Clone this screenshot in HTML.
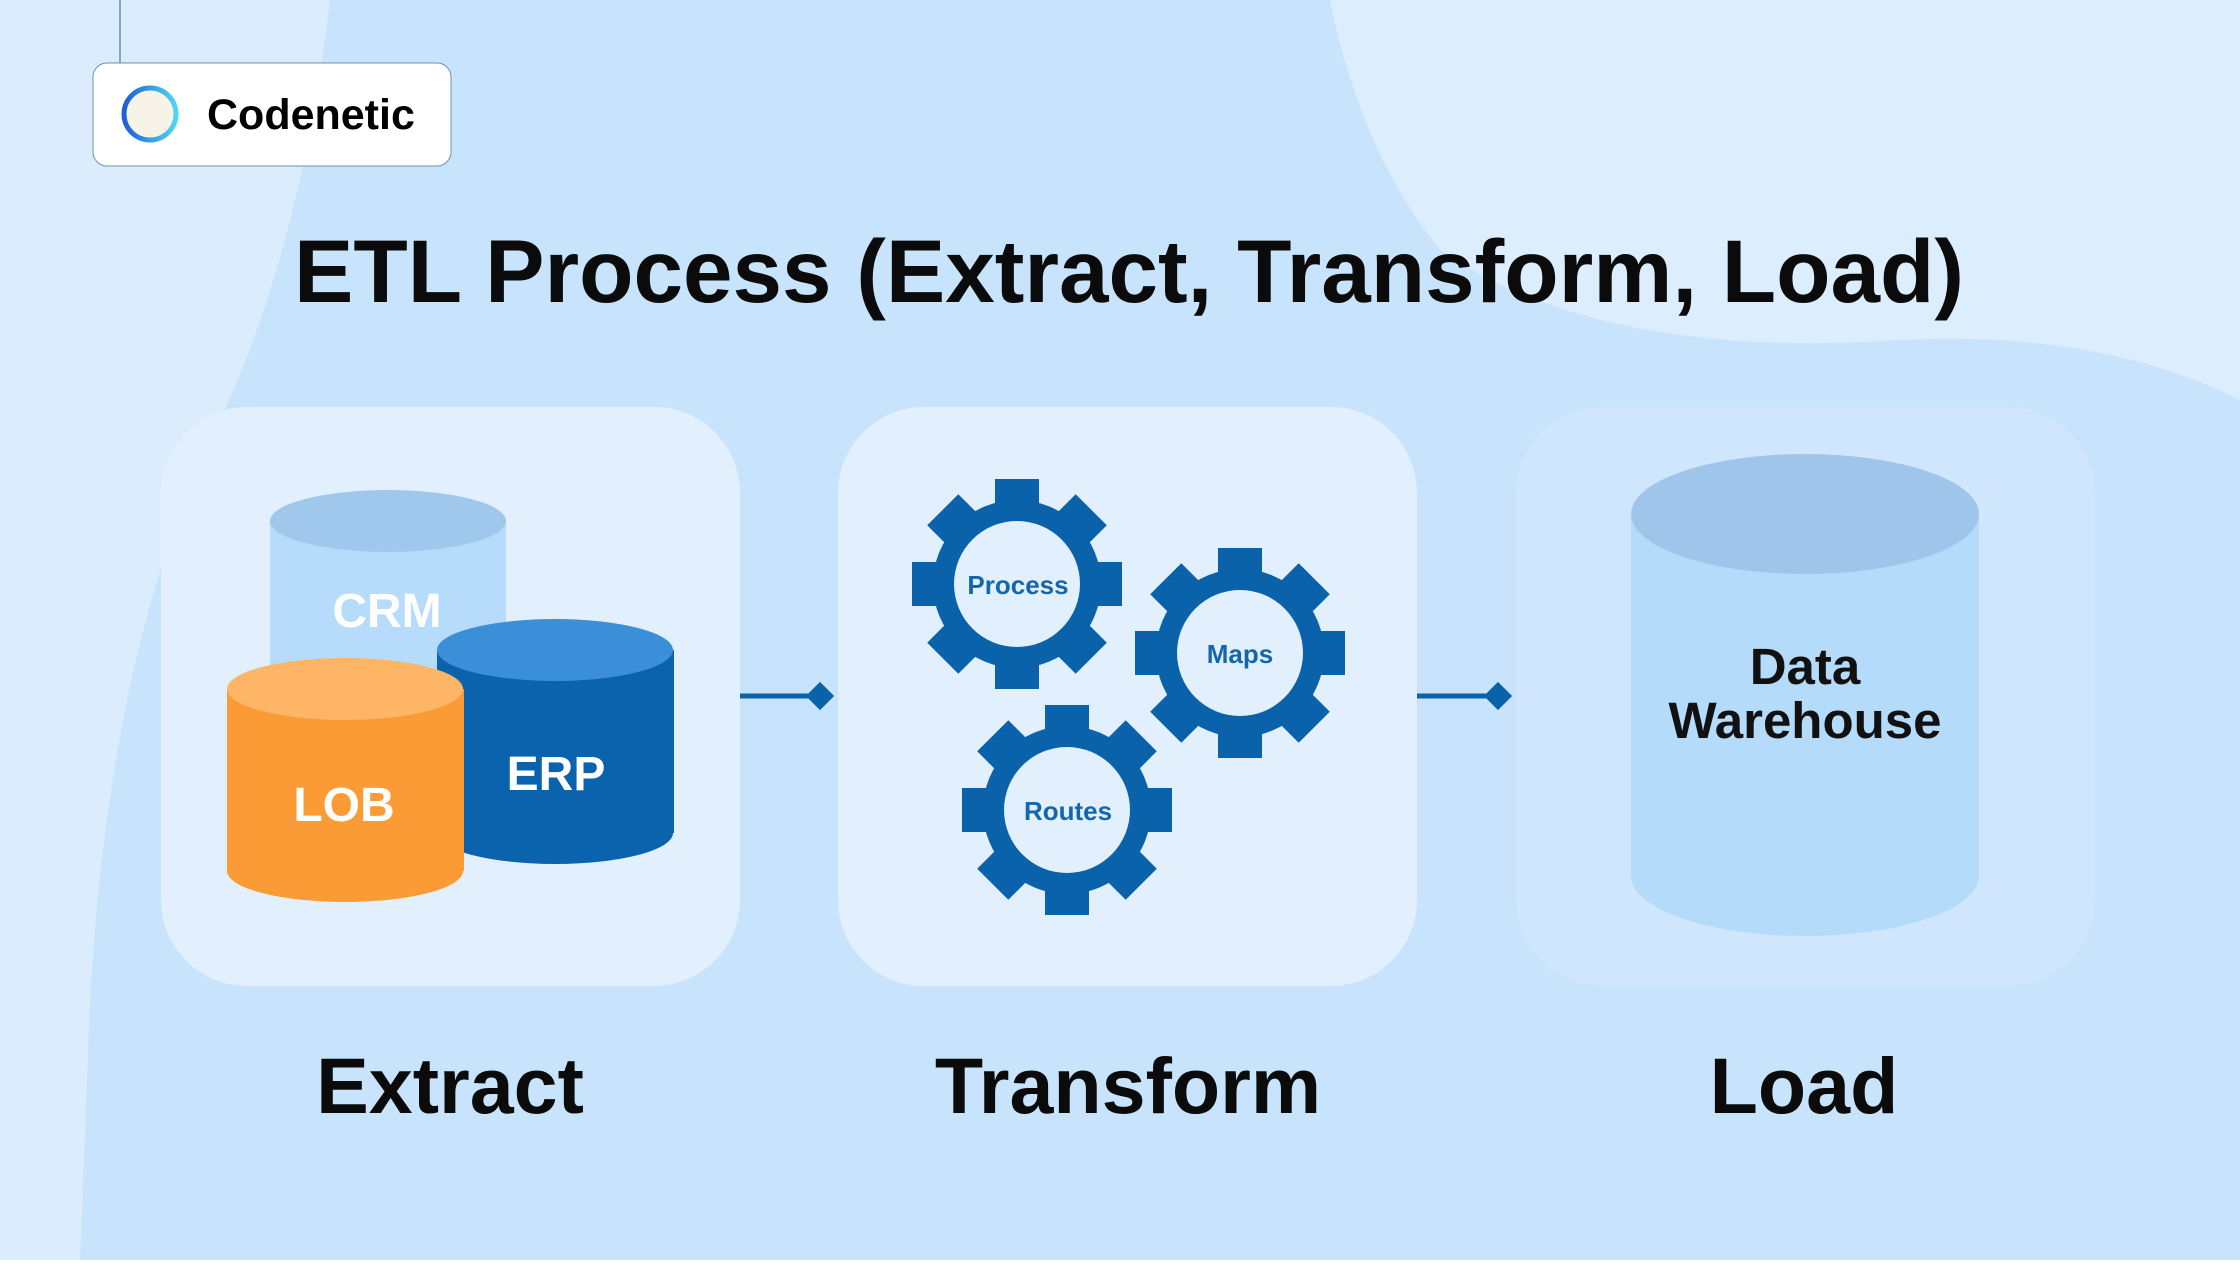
<!DOCTYPE html>
<html><head><meta charset="utf-8"><style>
html,body{margin:0;padding:0}
body{width:2240px;height:1260px;overflow:hidden;font-family:"Liberation Sans",sans-serif}
</style></head><body>
<svg width="2240" height="1260" viewBox="0 0 2240 1260" xmlns="http://www.w3.org/2000/svg">
<rect width="2240" height="1260" fill="#c8e4fc"/>
<path d="M0 0 L330 0 Q300 250 220 420 Q110 640 90 1000 L80 1260 L0 1260 Z" fill="#dbecfd"/>
<path d="M1330 0 L2240 0 L2240 400 Q2100 330 1900 340 Q1600 360 1440 250 Q1360 150 1330 0 Z" fill="#dcedfd"/>
<line x1="120" y1="0" x2="120" y2="63" stroke="#6b8fb5" stroke-width="1.5"/>
<rect x="93" y="63" width="358" height="103" rx="14" fill="#fff" stroke="#6f8fb8" stroke-width="1"/>
<defs><linearGradient id="lg" x1="0" x2="1"><stop offset="0" stop-color="#1f5fd8"/><stop offset="1" stop-color="#4fd6f0"/></linearGradient></defs>
<circle cx="150" cy="114" r="26" fill="#f7f3e6" stroke="url(#lg)" stroke-width="5"/>
<text x="207" y="129" font-size="43" font-weight="bold" fill="#000">Codenetic</text>
<text x="1129" y="302" text-anchor="middle" font-size="89" font-weight="bold" fill="#0b0b0b">ETL Process (Extract, Transform, Load)</text>
<rect x="161" y="407" width="579" height="579" rx="86" fill="#e2f0fe"/>
<rect x="838" y="407" width="579" height="579" rx="86" fill="#e2f0fe"/>
<rect x="1516" y="407" width="579" height="579" rx="86" fill="#cfe6fc"/>
<line x1="740" y1="696" x2="815" y2="696" stroke="#0a62aa" stroke-width="5"/>
<rect x="810" y="686" width="20" height="20" fill="#0a62aa" transform="rotate(45 820 696)"/>
<line x1="1417" y1="696" x2="1492" y2="696" stroke="#0a62aa" stroke-width="5"/>
<rect x="1488" y="686" width="20" height="20" fill="#0a62aa" transform="rotate(45 1498 696)"/>
<rect x="270" y="521" width="236" height="160" fill="#b7dbfa"/>
<ellipse cx="388" cy="521" rx="118" ry="31" fill="#9fc8ec"/>
<text x="387" y="627" text-anchor="middle" font-size="48" font-weight="bold" fill="#fff">CRM</text>
<rect x="437" y="650" width="237" height="183" fill="#0b62ad"/>
<ellipse cx="555" cy="833" rx="118" ry="31" fill="#0b62ad"/>
<ellipse cx="555" cy="650" rx="118" ry="31" fill="#3a8fd8"/>
<text x="556" y="790" text-anchor="middle" font-size="48" font-weight="bold" fill="#fff">ERP</text>
<rect x="227" y="689" width="237" height="182" fill="#fb9b35"/>
<ellipse cx="345" cy="871" rx="118" ry="31" fill="#fb9b35"/>
<ellipse cx="345" cy="689" rx="118" ry="31" fill="#ffb566"/>
<text x="344" y="821" text-anchor="middle" font-size="48" font-weight="bold" fill="#fff">LOB</text>
<defs>
<g id="gear">
<circle r="84" fill="#0a62aa"/>
<rect x="-22" y="-105" width="44" height="210" fill="#0a62aa"/>
<rect x="-22" y="-105" width="44" height="210" fill="#0a62aa" transform="rotate(45)"/>
<rect x="-22" y="-105" width="44" height="210" fill="#0a62aa" transform="rotate(90)"/>
<rect x="-22" y="-105" width="44" height="210" fill="#0a62aa" transform="rotate(135)"/>
<g fill="#e2f0fe">
<circle cx="91" cy="38" r="12"/><circle cx="38" cy="91" r="12"/><circle cx="-38" cy="91" r="12"/><circle cx="-91" cy="38" r="12"/>
<circle cx="-91" cy="-38" r="12"/><circle cx="-38" cy="-91" r="12"/><circle cx="38" cy="-91" r="12"/><circle cx="91" cy="-38" r="12"/>
</g>
<circle r="63" fill="#e2f0fe"/>
</g>
</defs>
<g transform="translate(1017,584)"><use href="#gear"/></g>
<g transform="translate(1240,653)"><use href="#gear"/></g>
<g transform="translate(1067,810)"><use href="#gear"/></g>
<text x="1018" y="594" text-anchor="middle" font-size="26" font-weight="bold" fill="#1466ad">Process</text>
<text x="1240" y="663" text-anchor="middle" font-size="26" font-weight="bold" fill="#1466ad">Maps</text>
<text x="1068" y="820" text-anchor="middle" font-size="26" font-weight="bold" fill="#1466ad">Routes</text>
<rect x="1631" y="514" width="348" height="362" fill="#b5dbfb"/>
<ellipse cx="1805" cy="876" rx="174" ry="60" fill="#b5dbfb"/>
<ellipse cx="1805" cy="514" rx="174" ry="60" fill="#9fc6ea"/>
<text x="1805" y="684" text-anchor="middle" font-size="51" font-weight="bold" fill="#111">Data</text>
<text x="1805" y="738" text-anchor="middle" font-size="51" font-weight="bold" fill="#111">Warehouse</text>
<text x="450" y="1113" text-anchor="middle" font-size="79" font-weight="bold" fill="#0b0b0b">Extract</text>
<text x="1128" y="1113" text-anchor="middle" font-size="79" font-weight="bold" fill="#0b0b0b">Transform</text>
<text x="1804" y="1113" text-anchor="middle" font-size="79" font-weight="bold" fill="#0b0b0b">Load</text>
</svg>
</body></html>
